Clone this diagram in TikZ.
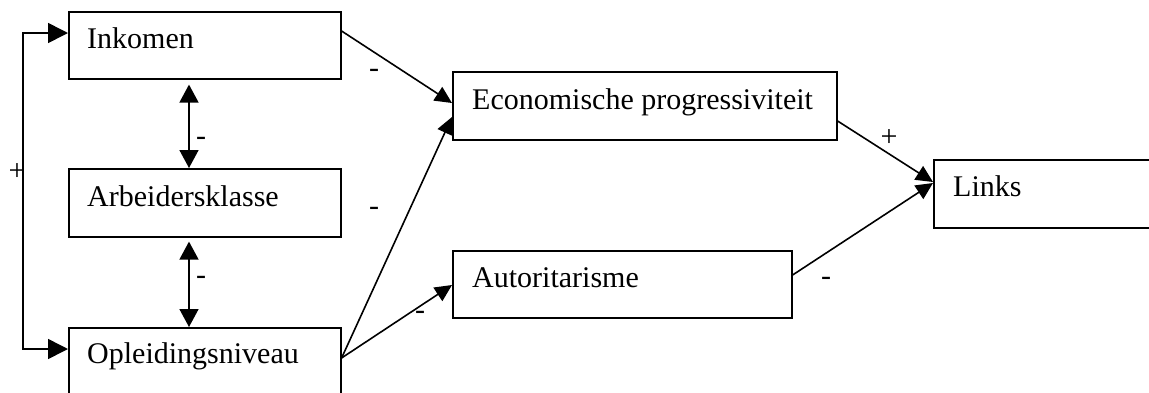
\documentclass[tikz,border=0pt]{standalone}
\usepackage{fontspec}
\setmainfont{Liberation Serif}
\usetikzlibrary{arrows.meta,calc}
\begin{document}
\begin{tikzpicture}[x=1pt,y=-1pt,
  box/.style={draw,line width=1.6pt,anchor=north west,inner sep=0pt,minimum width=#1},
  lbl/.style={anchor=base west,inner sep=0pt,font=\fontsize{30}{35}\selectfont},
  sgn/.style={anchor=base,inner sep=0pt,font=\fontsize{30}{35}\selectfont},
  tip/.style={-{Triangle[length=17pt,width=16pt]}},
  conn/.style={line width=1.6pt}]
\useasboundingbox (0,0) rectangle (1149,392);
% boxes
\node[box=272pt,minimum height=67pt] (ink) at (68,11) {};
\node[box=272pt,minimum height=68pt] (arb) at (68,168) {};
\node[box=272pt,minimum height=70pt] (opl) at (68,327) {};
\node[box=384pt,minimum height=68pt] (eco) at (452,71) {};
\node[box=339pt,minimum height=67pt] (aut) at (452,250) {};
\node[box=230pt,minimum height=68pt] (lnk) at (933,159) {};
% texts
\node[lbl] (tink) at ($(ink.north west)+(19,37)$) {Inkomen};
\node[lbl] (tarb) at ($(arb.north west)+(19,38)$) {Arbeidersklasse};
\node[lbl] (topl) at ($(opl.north west)+(19,36)$) {Opleidingsniveau};
\node[lbl] (teco) at ($(eco.north west)+(20,38)$) {Economische progressiviteit};
\node[lbl] (taut) at ($(aut.north west)+(20,37)$) {Autoritarisme};
\node[lbl] (tlnk) at ($(lnk.north west)+(20,37)$) {Links};
% left bracket
\coordinate (lt) at (23,33);
\coordinate (lb) at (23,349);
\draw[conn,{Triangle[length=20pt,width=20pt]}-{Triangle[length=20pt,width=20pt]}]
  ($(ink.north west)+(0,22)$) -- (lt) -- (lb) -- ($(opl.north west)+(0,22)$);
% vertical double arrows
\draw[conn,{Triangle[length=18pt,width=19pt]}-{Triangle[length=18pt,width=19pt]}]
  ($(ink.south west)+(121,5)$) -- ($(arb.north west)+(121,0)$);
\draw[conn,{Triangle[length=18pt,width=19pt]}-{Triangle[length=18pt,width=19pt]}]
  ($(arb.south west)+(121,4)$) -- ($(opl.north west)+(121,0)$);
% diagonal arrows
\draw[conn,tip] ($(ink.north east)+(0,20)$) -- ($(eco.north west)+(0,32)$);
\draw[conn,tip] ($(opl.north east)+(0,31)$) -- ($(eco.north west)+(0,46)$);
\draw[conn,tip] ($(opl.north east)+(0,31)$) -- ($(aut.north west)+(0,35)$);
\draw[conn,tip] ($(eco.north east)+(0,50)$) -- ($(lnk.north west)+(0,23)$);
\draw[conn,tip] ($(aut.north east)+(0,25)$) -- ($(lnk.north west)+(0,24)$);
% signs
\node[sgn] (s1) at (17,180) {+};
\node[sgn] (s2) at (201,145) {-};
\node[sgn] (s3) at (201,284) {-};
\node[sgn] (s4) at (374,77) {-};
\node[sgn] (s5) at (374,215) {-};
\node[sgn] (s6) at (420,319) {-};
\node[sgn] (s7) at (889,146) {+};
\node[sgn] (s8) at (826,285) {-};
\end{tikzpicture}
\end{document}
